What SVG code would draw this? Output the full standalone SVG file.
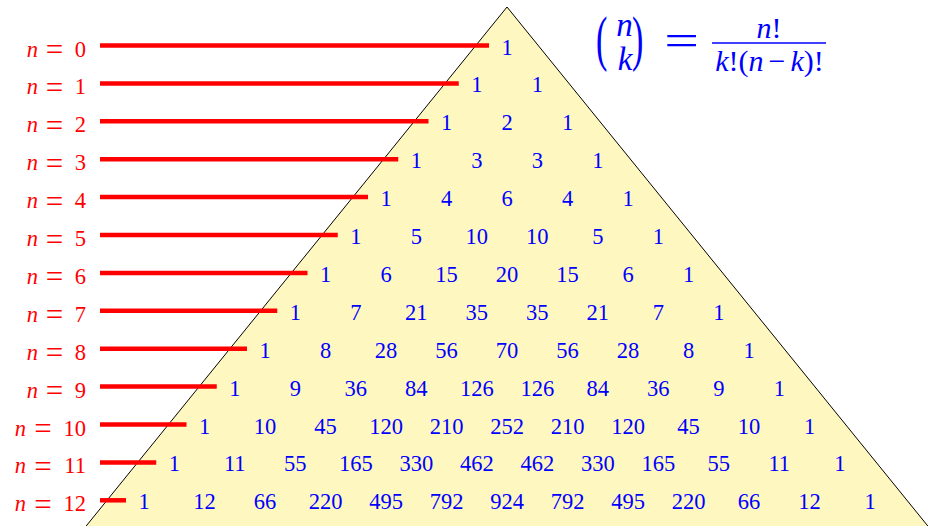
<svg xmlns="http://www.w3.org/2000/svg" width="928" height="526" viewBox="0 0 928 526">
<style>
.num{font-size:22.5px;fill:#0000ff;text-anchor:middle}
.lab{font-size:22.5px;fill:#ff0000}
.eq{font-size:31px;fill:#ff0000;text-anchor:middle}
.it{font-style:italic}
.f{font-size:30px;fill:#0000ff}
.rl{stroke:#ff0000;stroke-width:4.5;fill:none}
</style>
<rect width="928" height="526" fill="#ffffff"/>
<polygon id="triangle" points="507,7 74,541 940,541" fill="#fff7c0" stroke="#000000" stroke-width="1"/>
<g id="connectors">
<line class="rl" x1="100" y1="45.5" x2="489" y2="45.5"/>
<line class="rl" x1="100" y1="83.4" x2="458.75" y2="83.4"/>
<line class="rl" x1="100" y1="121.3" x2="428.5" y2="121.3"/>
<line class="rl" x1="100" y1="159.2" x2="398.25" y2="159.2"/>
<line class="rl" x1="100" y1="197.1" x2="368" y2="197.1"/>
<line class="rl" x1="100" y1="235" x2="337.75" y2="235"/>
<line class="rl" x1="100" y1="272.9" x2="307.5" y2="272.9"/>
<line class="rl" x1="100" y1="310.8" x2="277.25" y2="310.8"/>
<line class="rl" x1="100" y1="348.7" x2="247" y2="348.7"/>
<line class="rl" x1="100" y1="386.6" x2="216.75" y2="386.6"/>
<line class="rl" x1="100" y1="424.5" x2="186.5" y2="424.5"/>
<line class="rl" x1="100" y1="462.4" x2="156.25" y2="462.4"/>
<line class="rl" x1="100" y1="500.3" x2="126" y2="500.3"/>
</g>
<g id="labels" font-family="Liberation Serif, Times New Roman, serif">
<g id="label0"><text class="lab it" x="38" y="56.5" text-anchor="end">n</text><text class="eq" x="54.5" y="60">=</text><text class="lab" x="86" y="56.5" text-anchor="end">0</text></g>
<g id="label1"><text class="lab it" x="38" y="94.4" text-anchor="end">n</text><text class="eq" x="54.5" y="97.9">=</text><text class="lab" x="86" y="94.4" text-anchor="end">1</text></g>
<g id="label2"><text class="lab it" x="38" y="132.3" text-anchor="end">n</text><text class="eq" x="54.5" y="135.8">=</text><text class="lab" x="86" y="132.3" text-anchor="end">2</text></g>
<g id="label3"><text class="lab it" x="38" y="170.2" text-anchor="end">n</text><text class="eq" x="54.5" y="173.7">=</text><text class="lab" x="86" y="170.2" text-anchor="end">3</text></g>
<g id="label4"><text class="lab it" x="38" y="208.1" text-anchor="end">n</text><text class="eq" x="54.5" y="211.6">=</text><text class="lab" x="86" y="208.1" text-anchor="end">4</text></g>
<g id="label5"><text class="lab it" x="38" y="246" text-anchor="end">n</text><text class="eq" x="54.5" y="249.5">=</text><text class="lab" x="86" y="246" text-anchor="end">5</text></g>
<g id="label6"><text class="lab it" x="38" y="283.9" text-anchor="end">n</text><text class="eq" x="54.5" y="287.4">=</text><text class="lab" x="86" y="283.9" text-anchor="end">6</text></g>
<g id="label7"><text class="lab it" x="38" y="321.8" text-anchor="end">n</text><text class="eq" x="54.5" y="325.3">=</text><text class="lab" x="86" y="321.8" text-anchor="end">7</text></g>
<g id="label8"><text class="lab it" x="38" y="359.7" text-anchor="end">n</text><text class="eq" x="54.5" y="363.2">=</text><text class="lab" x="86" y="359.7" text-anchor="end">8</text></g>
<g id="label9"><text class="lab it" x="38" y="397.6" text-anchor="end">n</text><text class="eq" x="54.5" y="401.1">=</text><text class="lab" x="86" y="397.6" text-anchor="end">9</text></g>
<g id="label10"><text class="lab it" x="26" y="435.5" text-anchor="end">n</text><text class="eq" x="43" y="439">=</text><text class="lab" x="86" y="435.5" text-anchor="end">10</text></g>
<g id="label11"><text class="lab it" x="26" y="473.4" text-anchor="end">n</text><text class="eq" x="43" y="476.9">=</text><text class="lab" x="86" y="473.4" text-anchor="end">11</text></g>
<g id="label12"><text class="lab it" x="26" y="511.3" text-anchor="end">n</text><text class="eq" x="43" y="514.8">=</text><text class="lab" x="86" y="511.3" text-anchor="end">12</text></g>
</g>
<g id="rows" font-family="Liberation Serif, Times New Roman, serif">
<g id="row0"><text class="num" y="54.5"><tspan x="507">1</tspan></text></g>
<g id="row1"><text class="num" y="92.4"><tspan x="476.75">1</tspan><tspan x="537.25">1</tspan></text></g>
<g id="row2"><text class="num" y="130.3"><tspan x="446.5">1</tspan><tspan x="507">2</tspan><tspan x="567.5">1</tspan></text></g>
<g id="row3"><text class="num" y="168.2"><tspan x="416.25">1</tspan><tspan x="476.75">3</tspan><tspan x="537.25">3</tspan><tspan x="597.75">1</tspan></text></g>
<g id="row4"><text class="num" y="206.1"><tspan x="386">1</tspan><tspan x="446.5">4</tspan><tspan x="507">6</tspan><tspan x="567.5">4</tspan><tspan x="628">1</tspan></text></g>
<g id="row5"><text class="num" y="244"><tspan x="355.75">1</tspan><tspan x="416.25">5</tspan><tspan x="476.75">10</tspan><tspan x="537.25">10</tspan><tspan x="597.75">5</tspan><tspan x="658.25">1</tspan></text></g>
<g id="row6"><text class="num" y="281.9"><tspan x="325.5">1</tspan><tspan x="386">6</tspan><tspan x="446.5">15</tspan><tspan x="507">20</tspan><tspan x="567.5">15</tspan><tspan x="628">6</tspan><tspan x="688.5">1</tspan></text></g>
<g id="row7"><text class="num" y="319.8"><tspan x="295.25">1</tspan><tspan x="355.75">7</tspan><tspan x="416.25">21</tspan><tspan x="476.75">35</tspan><tspan x="537.25">35</tspan><tspan x="597.75">21</tspan><tspan x="658.25">7</tspan><tspan x="718.75">1</tspan></text></g>
<g id="row8"><text class="num" y="357.7"><tspan x="265">1</tspan><tspan x="325.5">8</tspan><tspan x="386">28</tspan><tspan x="446.5">56</tspan><tspan x="507">70</tspan><tspan x="567.5">56</tspan><tspan x="628">28</tspan><tspan x="688.5">8</tspan><tspan x="749">1</tspan></text></g>
<g id="row9"><text class="num" y="395.6"><tspan x="234.75">1</tspan><tspan x="295.25">9</tspan><tspan x="355.75">36</tspan><tspan x="416.25">84</tspan><tspan x="476.75">126</tspan><tspan x="537.25">126</tspan><tspan x="597.75">84</tspan><tspan x="658.25">36</tspan><tspan x="718.75">9</tspan><tspan x="779.25">1</tspan></text></g>
<g id="row10"><text class="num" y="433.5"><tspan x="204.5">1</tspan><tspan x="265">10</tspan><tspan x="325.5">45</tspan><tspan x="386">120</tspan><tspan x="446.5">210</tspan><tspan x="507">252</tspan><tspan x="567.5">210</tspan><tspan x="628">120</tspan><tspan x="688.5">45</tspan><tspan x="749">10</tspan><tspan x="809.5">1</tspan></text></g>
<g id="row11"><text class="num" y="471.4"><tspan x="174.25">1</tspan><tspan x="234.75">11</tspan><tspan x="295.25">55</tspan><tspan x="355.75">165</tspan><tspan x="416.25">330</tspan><tspan x="476.75">462</tspan><tspan x="537.25">462</tspan><tspan x="597.75">330</tspan><tspan x="658.25">165</tspan><tspan x="718.75">55</tspan><tspan x="779.25">11</tspan><tspan x="839.75">1</tspan></text></g>
<g id="row12"><text class="num" y="509.3"><tspan x="144">1</tspan><tspan x="204.5">12</tspan><tspan x="265">66</tspan><tspan x="325.5">220</tspan><tspan x="386">495</tspan><tspan x="446.5">792</tspan><tspan x="507">924</tspan><tspan x="567.5">792</tspan><tspan x="628">495</tspan><tspan x="688.5">220</tspan><tspan x="749">66</tspan><tspan x="809.5">12</tspan><tspan x="870">1</tspan></text></g>
</g>
<g id="formula" font-family="Liberation Serif, Times New Roman, serif" fill="#0000ff">
<text font-size="62" transform="translate(596,59) scale(0.55,1)">(</text>
<text font-size="33" font-style="italic" x="624.5" y="36" text-anchor="middle">n</text>
<text font-size="33" font-style="italic" x="625" y="70" text-anchor="middle">k</text>
<text font-size="62" transform="translate(632,59) scale(0.55,1)">)</text>
<text font-size="44" transform="translate(681.5,55) scale(1.4,1)" text-anchor="middle">=</text>
<text class="f" x="769" y="38" text-anchor="middle"><tspan class="it">n</tspan>!</text>
<line x1="712" y1="43" x2="826" y2="43" stroke="#0000ff" stroke-width="1.6"/>
<text class="f" x="769.5" y="71" text-anchor="middle"><tspan class="it">k</tspan>!(<tspan class="it">n</tspan><tspan dx="5">−</tspan><tspan class="it" dx="5">k</tspan>)!</text>
</g>
</svg>
